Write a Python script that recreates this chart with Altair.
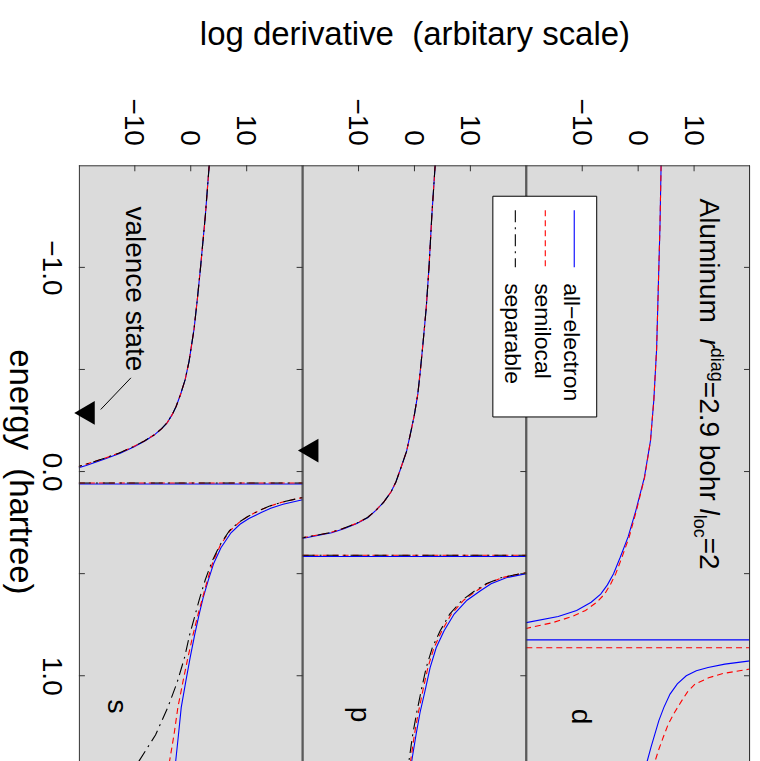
import altair as alt
import pandas as pd

FONT = "Liberation Sans"
BG = "#dbdbdb"
EDGE = "#333333"
W, H = 224, 597                 # one panel (plot area)
LD_DOMAIN = [-20, 20]           # log derivative
E_DOMAIN = [-1.5, 1.42]         # energy (hartree), increases downward

BLUE, RED, BLACK = "#0000ff", "#ff0000", "#000000"
DASH_SL = [6, 4]
DASH_SEP = [12, 5, 2, 5]

LD_TICKS = [-10, 0, 10]
E_TICKS = [-1.0, -0.5, 0.0, 0.5, 1.0]
E_LABELS = [-1.0, 0.0, 1.0]

# ---------------- s channel ----------------
s_up_E = [-1.5, -1.25, -1.0, -0.85, -0.7, -0.54, -0.45, -0.38, -0.32, -0.28,
          -0.24, -0.21, -0.18, -0.15, -0.12, -0.09, -0.06, -0.03, -0.015, 0.02]
s_ae_up = [3.3, 2.6, 1.75, 1.2, 0.6, -0.3, -1.0, -1.8, -2.6, -3.3,
           -4.2, -5.2, -6.5, -8.2, -10.2, -12.6, -15.5, -18.7, -20.5, -30]
s_sl_up = [3.3, 2.6, 1.75, 1.2, 0.6, -0.3, -1.0, -1.8, -2.6, -3.3,
           -4.2, -5.2, -6.5, -8.3, -10.4, -12.9, -16.0, -19.4, -21.4, -32]
s_sep_up = [3.3, 2.6, 1.75, 1.2, 0.6, -0.3, -1.0, -1.8, -2.6, -3.3,
            -4.2, -5.2, -6.5, -8.3, -10.4, -12.9, -16.0, -19.4, -21.4, -32]

s_ae_lo_E = [0.095, 0.12, 0.139, 0.16, 0.18, 0.201, 0.23, 0.258, 0.30, 0.373,
             0.45, 0.535, 0.62, 0.70, 0.80, 0.91, 1.03, 1.155, 1.29, 1.42]
s_ae_lo = [40, 25, 19.8, 16.5, 14.3, 12.6, 10.4, 8.8, 7.2, 5.4,
           4.1, 3.1, 2.2, 1.5, 0.7, -0.1, -0.9, -1.7, -2.2, -2.7]
s_lo_E = [0.085, 0.11, 0.13, 0.15, 0.17, 0.19, 0.22, 0.25, 0.29, 0.36,
          0.44, 0.53, 0.62, 0.70, 0.80, 0.91, 1.03, 1.155, 1.29, 1.42]
s_sl_lo = [40, 24, 19.5, 16.3, 14.0, 12.3, 10.2, 8.6, 7.0, 5.3,
           4.0, 3.0, 2.1, 1.3, 0.4, -0.5, -1.4, -2.3, -3.0, -3.8]
s_sep_lo = [40, 24, 19.5, 16.3, 14.0, 12.3, 10.2, 8.5, 6.9, 5.2,
            3.8, 2.6, 1.6, 0.8, -0.2, -1.1, -2.4, -4.1, -6.3, -9.3]
s_poles = [0.061, 0.056, 0.056]          # all-electron, semilocal, separable

# ---------------- p channel ----------------
p_up_E = [-1.5, -1.25, -1.0, -0.8, -0.62, -0.48, -0.38, -0.28, -0.2, -0.1,
          -0.02, 0.05, 0.1, 0.15, 0.19, 0.225, 0.255, 0.28, 0.30, 0.325, 0.36]
p_ae_up = [3.7, 3.1, 2.6, 2.1, 1.5, 1.0, 0.6, 0.0, -0.6, -1.4,
           -2.4, -3.3, -4.2, -5.5, -6.9, -8.3, -10.3, -12.6, -14.8, -19.6, -30]
p_sl_up = [3.7, 3.1, 2.6, 2.1, 1.5, 1.0, 0.6, 0.0, -0.6, -1.4,
           -2.4, -3.3, -4.2, -5.5, -6.9, -8.4, -10.5, -12.9, -15.2, -20.2, -32]
p_sep_up = [3.7, 3.1, 2.6, 2.1, 1.5, 1.0, 0.6, 0.0, -0.6, -1.4,
            -2.4, -3.3, -4.2, -5.5, -6.9, -8.4, -10.5, -12.9, -15.2, -20.2, -32]

p_lo_E = [0.45, 0.48, 0.50, 0.52, 0.55, 0.584, 0.63, 0.698, 0.78, 0.862,
          0.96, 1.073, 1.18, 1.286, 1.42]
p_ae_lo = [48, 26, 20.0, 16.4, 13.7, 11.8, 9.4, 7.1, 5.3, 3.9,
           2.8, 1.9, 1.0, 0.3, -0.5]
p_sl_lo = [40, 24, 19.0, 15.6, 13.0, 11.1, 8.8, 6.6, 4.9, 3.5,
           2.4, 1.5, 0.7, 0.0, -0.7]
p_sep_lo = [40, 24, 19.0, 15.5, 12.8, 10.8, 8.5, 6.3, 4.6, 3.2,
            2.1, 1.2, 0.4, -0.3, -1.0]
p_poles = [0.416, 0.41, 0.41]

# ---------------- d channel (local, separable == semilocal) ----------------
d_ae_up_E = [-1.5, -1.2, -0.9, -0.6, -0.35, -0.15, 0.03, 0.19, 0.32, 0.42,
             0.5, 0.555, 0.6, 0.64, 0.68, 0.71, 0.74, 0.78]
d_ae_up = [4.1, 3.9, 3.6, 3.3, 2.8, 2.2, 1.1, -0.4, -1.8, -3.2,
           -4.4, -5.5, -6.7, -8.4, -11.0, -14.3, -20.0, -35]
d_sl_up_E = [-1.5, -1.2, -0.9, -0.6, -0.35, -0.15, 0.03, 0.19, 0.32, 0.42,
             0.5, 0.555, 0.6, 0.64, 0.68, 0.71, 0.74, 0.77, 0.80]
d_sl_up = [4.1, 3.9, 3.6, 3.3, 2.8, 2.2, 1.15, -0.3, -1.6, -2.9,
           -4.0, -5.0, -6.0, -7.4, -9.4, -11.8, -15.3, -20.3, -32]

d_ae_lo_E = [0.88, 0.91, 0.927, 0.943, 0.96, 0.976, 1.0, 1.04, 1.09, 1.155,
             1.22, 1.285, 1.35, 1.42]
d_ae_lo = [35, 25, 20.0, 15.5, 12.5, 10.4, 8.6, 7.0, 5.7, 4.6,
           3.7, 3.0, 2.3, 1.6]
d_sl_lo_E = [0.92, 0.95, 0.967, 0.99, 1.01, 1.04, 1.08, 1.122, 1.18, 1.236,
             1.30, 1.36, 1.42]
d_sl_lo = [40, 25, 20.0, 15.0, 12.6, 10.2, 8.8, 7.8, 6.5, 5.4,
           4.5, 3.7, 3.0]
d_poles = [0.824, 0.863]

# valence eigenvalues (hartree)
E_VAL_S = -0.2874
E_VAL_P = -0.1026

SCHEMES = [("all-electron", BLUE, None),
           ("semilocal", RED, DASH_SL),
           ("separable", BLACK, DASH_SEP)]


def branches_frame(branches):
    rows = []
    for b, (es, lds) in enumerate(branches):
        for i, (e, v) in enumerate(zip(es, lds)):
            rows.append({"E": e, "LD": v, "branch": b, "i": i})
    return pd.DataFrame(rows)


def one_row():
    return pd.DataFrame({"k": [0]})


def encodings(x_title, left_axis):
    xaxis = alt.Axis(orient="top", values=LD_TICKS, format="d", labelAngle=90,
                     labelAlign="right", labelBaseline="middle", labelPadding=20,
                     labelOffset=-2, labelFontSize=28, labelFont=FONT,
                     labelColor="black", labelFlush=False, labelLimit=300,
                     ticks=False, tickSize=0, domain=False, grid=False,
                     title=x_title, titleFontSize=33, titleFont=FONT,
                     titleFontWeight="normal", titleColor="black",
                     titleX=W / 2, titleY=-120.7, titleAlign="center",
                     titleBaseline="alphabetic", titleAngle=0, titleLimit=1000)
    if left_axis:
        yaxis = alt.Axis(orient="left", values=E_LABELS, format=".1f", labelAngle=90,
                         labelAlign="center", labelBaseline="top", labelPadding=14,
                         labelFontSize=28, labelFont=FONT, labelColor="black",
                         labelFlush=False, labelLimit=300,
                         ticks=False, tickSize=0, domain=False, grid=False,
                         title="energy\u00a0\u00a0(hartree)", titleFontSize=33,
                         titleFont=FONT, titleFontWeight="normal", titleColor="black",
                         titleAngle=90, titleX=-69, titleY=306.5, titleAlign="center",
                         titleBaseline="alphabetic", titleLimit=1000)
    else:
        yaxis = None
    X = alt.X("LD:Q", scale=alt.Scale(domain=LD_DOMAIN, nice=False, zero=False), axis=xaxis)
    Y = alt.Y("E:Q", scale=alt.Scale(domain=E_DOMAIN, nice=False, zero=False, reverse=True),
              axis=yaxis)
    return X, Y


def panel(curves, poles, label, label_pos, x_title=None, left_axis=False, extras=None):
    X, Y = encodings(x_title, left_axis)
    layers = []
    # curves
    for (name, color, dash), branches in zip(SCHEMES, curves):
        df = branches_frame(branches)
        kw = {"strokeDash": dash} if dash else {}
        layers.append(alt.Chart(df).mark_line(color=color, strokeWidth=1.1, clip=True, **kw)
                      .encode(x=X, y=Y, detail="branch:N", order="i:Q"))
    # jumps across the poles
    for (name, color, dash), pole in zip(SCHEMES, poles):
        kw = {"strokeDash": dash} if dash else {}
        layers.append(alt.Chart(pd.DataFrame({"E": [pole]}))
                      .mark_rule(color=color, strokeWidth=1.2, **kw)
                      .encode(y=Y, x=alt.value(0), x2=alt.value(W)))
    # inward ticks
    layers.append(alt.Chart(pd.DataFrame({"LD": LD_TICKS})).mark_rule(color=EDGE)
                  .encode(x=X, y=alt.value(0), y2=alt.value(6)))
    et = pd.DataFrame({"E": E_TICKS})
    if left_axis:
        layers.append(alt.Chart(et).mark_rule(color=EDGE)
                      .encode(y=Y, x=alt.value(0), x2=alt.value(6)))
    layers.append(alt.Chart(et).mark_rule(color=EDGE)
                  .encode(y=Y, x=alt.value(W - 6), x2=alt.value(W)))
    # frame (left, right, top)
    layers.append(alt.Chart(one_row()).mark_rule(color=EDGE, strokeWidth=1)
                  .encode(x=alt.value(0.5), y=alt.value(0), y2=alt.value(H)))
    layers.append(alt.Chart(one_row()).mark_rule(color=EDGE, strokeWidth=1)
                  .encode(x=alt.value(W - 0.5), y=alt.value(0), y2=alt.value(H)))
    layers.append(alt.Chart(one_row()).mark_rule(color=EDGE, strokeWidth=1)
                  .encode(x=alt.value(0), x2=alt.value(W), y=alt.value(0.5)))
    # channel label
    layers.append(alt.Chart(pd.DataFrame({"LD": [label_pos[0]], "E": [label_pos[1]], "t": [label]}))
                  .mark_text(font=FONT, fontSize=28, angle=90, align="center",
                             baseline="alphabetic", color="black")
                  .encode(x=X, y=Y, text="t:N"))
    if extras:
        layers.extend(extras(X, Y))
    return alt.layer(*layers).properties(width=W, height=H)


def valence_marker(X, Y, e_val):
    return alt.Chart(pd.DataFrame({"LD": [-19.0], "E": [e_val]})).mark_point(
        shape="triangle-left", size=560, filled=True, color="black", opacity=1
    ).encode(x=X, y=Y)


def s_extras(X, Y):
    out = [valence_marker(X, Y, E_VAL_S)]
    out.append(alt.Chart(pd.DataFrame({"LD": [-11.6], "E": [-1.298], "t": ["valence state"]}))
               .mark_text(font=FONT, fontSize=28, angle=90, align="left",
                          baseline="alphabetic", color="black")
               .encode(x=X, y=Y, text="t:N"))
    out.append(alt.Chart(pd.DataFrame({"LD": [-10.7], "E": [-0.459],
                                       "LD2": [-16.1], "E2": [-0.304]}))
               .mark_rule(color="black", strokeWidth=1)
               .encode(x=X, y=Y, x2="LD2:Q", y2="E2:Q"))
    return out


def p_extras(X, Y):
    return [valence_marker(X, Y, E_VAL_P)]


# annotation pieces along the reading direction: (text, dx, dy, size, style)
NOTE_PIECES = [("Aluminum", 0, 0, 28, "normal"),
               ("r", 140, 0, 28, "italic"),
               ("diag", 149.5, -11, 18, "normal"),
               ("=2.9 bohr", 183.5, 0, 28, "normal"),
               ("l", 310.4, 0, 28, "italic"),
               ("loc", 316.6, 6, 18, "normal"),
               ("=2", 339.6, 0, 28, "normal")]
NOTE_ANCHOR = (11.1, -1.337)

LEGEND_ITEMS = [("all\u2212electron", BLUE, None, 48),
                ("semilocal", RED, DASH_SL, 19),
                ("separable", BLACK, DASH_SEP, -11)]


def d_extras(X, Y):
    out = []
    anchor = pd.DataFrame({"LD": [NOTE_ANCHOR[0]], "E": [NOTE_ANCHOR[1]]})
    for text, dx, dy, size, style in NOTE_PIECES:
        out.append(alt.Chart(anchor).mark_text(font=FONT, fontSize=size, fontStyle=style,
                                               angle=90, align="left", baseline="alphabetic",
                                               dx=dx, dy=dy, color="black")
                   .encode(x=X, y=Y, text=alt.value(text)))
    # legend box, drawn rotated like the rest of the figure
    out.append(alt.Chart(one_row()).mark_rect(fill="white", stroke="black", strokeWidth=1)
               .encode(x=alt.value(-33.5), x2=alt.value(70.5), y=alt.value(31), y2=alt.value(252)))
    for text, color, dash, xpos in LEGEND_ITEMS:
        kw = {"strokeDash": dash} if dash else {}
        out.append(alt.Chart(one_row()).mark_rule(color=color, strokeWidth=1.1, **kw)
                   .encode(x=alt.value(xpos), y=alt.value(45), y2=alt.value(102)))
        out.append(alt.Chart(one_row()).mark_text(font=FONT, fontSize=23, angle=90, align="left",
                                                  baseline="alphabetic", color="black")
                   .encode(x=alt.value(xpos - 10), y=alt.value(118), text=alt.value(text)))
    return out


s_panel = panel(
    curves=[[(s_up_E, s_ae_up), (s_ae_lo_E, s_ae_lo)],
            [(s_up_E, s_sl_up), (s_lo_E, s_sl_lo)],
            [(s_up_E, s_sep_up), (s_lo_E, s_sep_lo)]],
    poles=s_poles, label="s", label_pos=(-14.8, 1.15), left_axis=True, extras=s_extras)

p_panel = panel(
    curves=[[(p_up_E, p_ae_up), (p_lo_E, p_ae_lo)],
            [(p_up_E, p_sl_up), (p_lo_E, p_sl_lo)],
            [(p_up_E, p_sep_up), (p_lo_E, p_sep_lo)]],
    poles=p_poles, label="p", label_pos=(-11.4, 1.19),
    x_title="log derivative\u00a0\u00a0(arbitary scale)", extras=p_extras)

d_panel = panel(
    curves=[[(d_ae_up_E, d_ae_up), (d_ae_lo_E, d_ae_lo)],
            [(d_sl_up_E, d_sl_up), (d_sl_lo_E, d_sl_lo)]],
    poles=d_poles, label="d", label_pos=(-11.8, 1.20), extras=d_extras)

chart = (
    alt.hconcat(s_panel, p_panel, d_panel, spacing=0, bounds="flush")
    .properties(padding={"left": 2, "top": 17, "right": 8, "bottom": 0})
    .configure(font=FONT)
    .configure_view(stroke="transparent", fill=BG)
)

chart.save("out.html", embed_options={"renderer": "svg", "actions": False})
